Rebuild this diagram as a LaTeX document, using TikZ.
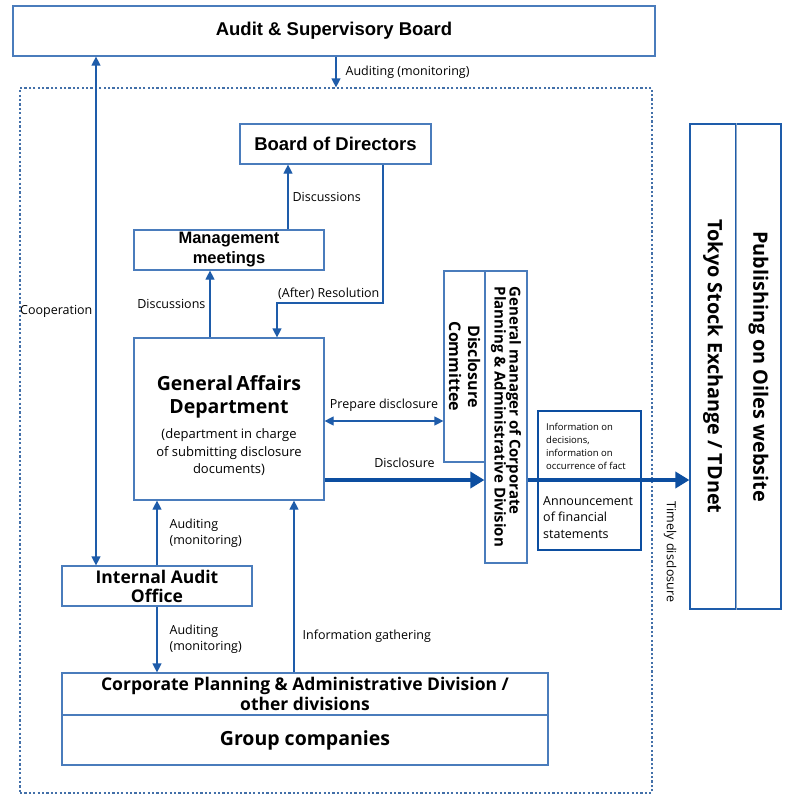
\documentclass[tikz,border=0pt]{standalone}
\usepackage{fontspec}
\setmainfont{Open Sans}
\newfontfamily\headfont{Liberation Sans}
\usetikzlibrary{arrows.meta,positioning}

\definecolor{boxblue}{RGB}{74,124,188}
\definecolor{arrblue}{RGB}{30,92,170}
\definecolor{deepblue}{RGB}{12,78,160}
\definecolor{paleblue}{RGB}{140,168,200}

\begin{document}
\begin{tikzpicture}[x=1pt, y=-1pt,
  box/.style = {draw=boxblue, line width=1.2pt, align=center, inner sep=0pt},
  vbox/.style = {box, rotate=-90},
  head/.style 2 args = {font=\headfont\bfseries\fontsize{#1}{#2}\selectfont},
  bold/.style 2 args = {font=\bfseries\fontsize{#1}{#2}\selectfont},
  arr/.style = {draw=arrblue, line width=1.2pt, -{Triangle[length=9pt,width=9pt]}},
  dblarr/.style = {arr, {Triangle[length=9pt,width=9pt]}-{Triangle[length=9pt,width=9pt]}},
  fat/.style = {draw=deepblue, line width=4.5pt, -{Triangle[length=14pt,width=16pt]}},
  lbl/.style = {font=\fontsize{12.5}{16}\selectfont, inner sep=1pt, align=left}]

  \fill[white] (0,0) rectangle (800,800);
  \useasboundingbox (0,0) rectangle (800,800);

  % outside the company frame
  \node[box, head={18.5}{22}, minimum width=642, minimum height=50] (asb) at (334,31) {Audit \& Supervisory Board};
  \node[box, draw=boxblue!90!black, dash pattern=on 2.2pt off 2.2pt, minimum width=632, minimum height=705] (frame) at (336,440.5) {};

  % boards
  \node[box, head={18.5}{22}, minimum width=191, minimum height=40] (bod) at (335.5,144) {Board of Directors};
  \node[box, head={16.5}{20}, minimum width=190, minimum height=40] (mm) at (229,250) {Management\\meetings};
  \node[box, minimum width=190, minimum height=162, text width=186] (ga) at (229,419)
    {{\bfseries\fontsize{19.5}{23}\selectfont \rule{0pt}{28pt}General Affairs\\Department\par}
     \vspace{8pt}
     {\fontsize{13}{17.5}\selectfont (department in charge\\of submitting disclosure\\documents)\par}};

  % disclosure side
  \node[vbox, bold={16}{19}, minimum width=191, minimum height=41] (dc) at (464.5,366.5) {Disclosure\\Committee};
  \node[vbox, bold={15}{15}, align=left, minimum width=292, minimum height=42] (gm) at (506,417)
    {General manager of Corporate\\Planning \& Administrative Division};
  \node[draw=deepblue, line width=2.5pt, minimum width=103, minimum height=139, inner sep=0pt] (info) at (589.5,480.5) {};
  \node[lbl, anchor=north west, font=\fontsize{9.5}{13}\selectfont, inner sep=0pt] (infodec) at (546,423)
    {Information on\\decisions,\\information on\\occurrence of fact};
  \node[lbl, anchor=north west, font=\fontsize{12.5}{16.5}\selectfont, inner sep=0pt] (infofin) at (543,496)
    {Announcement\\of financial\\statements};
  \node[vbox, draw=arrblue, bold={19.8}{22}, minimum width=485, minimum height=46] (tse) at (713,366.5) {Tokyo Stock Exchange / TDnet};
  \node[vbox, draw=arrblue, bold={19.8}{22}, minimum width=485, minimum height=45] (web) at (758.5,366.5) {Publishing on Oiles website};
  \draw[paleblue, line width=1.5pt] (tse.north west) -- (tse.north east);

  % lower part
  \node[box, bold={17.5}{19}, minimum width=190, minimum height=40] (iao) at (157,586) {Internal Audit\\Office};
  \node[box, bold={17.5}{20}, minimum width=486, minimum height=42] (cp) at (305,694)
    {Corporate Planning \& Administrative Division /\\other divisions};
  \node[box, bold={19.5}{22}, minimum width=486, minimum height=50, below=-1.2pt of cp] (gc) {Group companies};

  % connectors
  \draw[arr] (frame.north |- asb.south) -- (frame.north) node[lbl, midway, right=8pt] {Auditing (monitoring)};
  \draw[dblarr] (asb.south -| 96,0) -- (iao.north -| 96,0) node[lbl, midway, left=2pt] {Cooperation};
  \draw[arr] (mm.north -| 288,0) -- (bod.south -| 288,0) node[lbl, midway, right=3pt] {Discussions};
  \draw[arr] (ga.north -| 210,0) -- (mm.south -| 210,0) node[lbl, midway, left=3pt] {Discussions};
  \draw[arr] (bod.south -| 383,0) |- node[lbl, pos=0.5, above left=2pt and 2pt] {(After) Resolution} (277,303) -- (ga.north -| 277,0);
  \draw[dblarr] (ga.east |- 0,421) -- (dc.south |- 0,421) node[lbl, midway, above=8pt] {Prepare disclosure};
  \draw[fat] (ga.east |- 0,480) -- (gm.south |- 0,480) node[lbl, midway, above=9pt] {Disclosure};
  \draw[fat] (gm.north |- 0,480) -- (tse.south |- 0,480);
  \node[lbl, rotate=-90, font=\fontsize{12.5}{15}\selectfont] (timely) at (670,552) {Timely disclosure};
  \draw[arr] (iao.north) -- (iao.north |- ga.south) node[lbl, midway, right=11pt] {Auditing\\(monitoring)};
  \draw[arr] (iao.south) -- (iao.south |- cp.north) node[lbl, midway, right=11pt] {Auditing\\(monitoring)};
  \draw[arr] (cp.north -| 294,0) -- (ga.south -| 294,0) node[lbl, pos=0.21, right=7pt] {Information gathering};
\end{tikzpicture}
\end{document}
